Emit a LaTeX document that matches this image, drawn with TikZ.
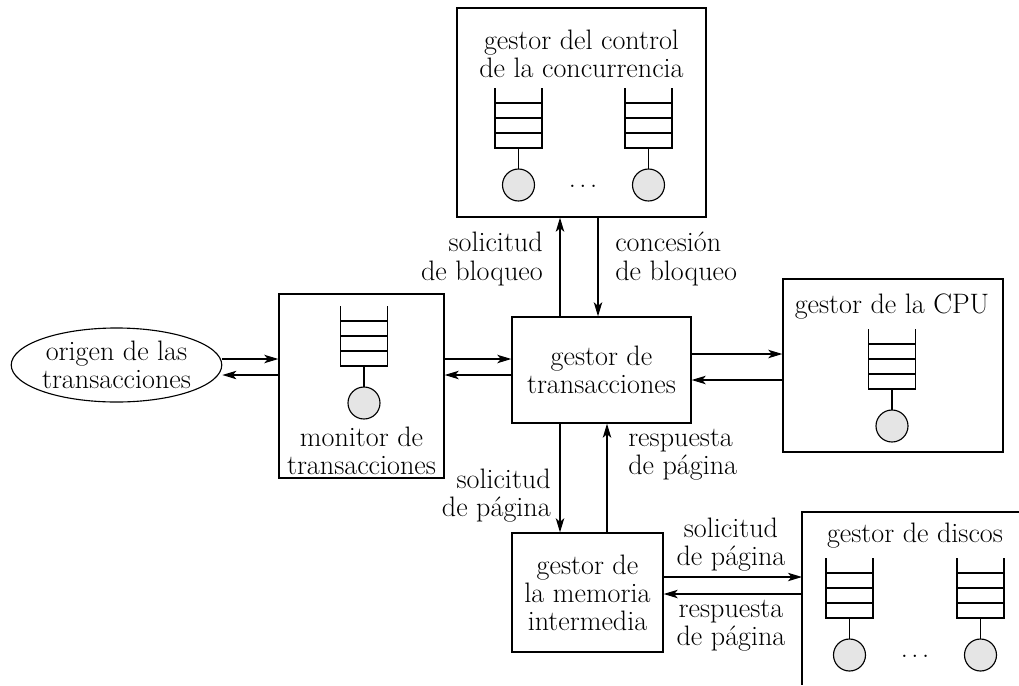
\documentclass[tikz,border=0pt]{standalone}
\usepackage{tikz}
\usetikzlibrary{positioning,arrows.meta,shapes.geometric,calc}

\tikzset{
  box/.style={draw, line width=0.9pt, inner sep=0pt},
  lbl/.style={inner sep=0pt},
  dots/.style={inner sep=0pt, font=\fontsize{16}{16}\selectfont},
  arr/.style={line width=0.8pt, -{Stealth[length=10pt,width=6pt,inset=2.5pt]}},
  queue/.pic={
    \draw[line width=0.8pt] (-23.5,0) -- (-23.5,60) -- (23.5,60) -- (23.5,0);
    \foreach \r in {15,30,45} \draw[line width=0.8pt] (-23.5,\r) -- (23.5,\r);
    \draw[line width=0.8pt] (0,60) -- (0,81);
    \draw[line width=0.8pt, fill=gray!20] (0,97) circle (16);
  }
}

\begin{document}
\begin{tikzpicture}[x=0.025cm, y=-0.025cm,
    every node/.style={font=\fontsize{20}{20}\selectfont}]
  \useasboundingbox (0,0) rectangle (1019,685);

  % gestor del control de la concurrencia (2 colas)
  \node[box, minimum width=6.225cm, minimum height=5.225cm] (conc) at (581.5,112.5) {};
  \node[lbl, align=center] (conctxt) at (581.5,54) {gestor del control\\de la concurrencia};
  \pic at (518.5,88) {queue};
  \pic at (648.5,88) {queue};
  \node[dots] (concdots) at (583,186) {$\ldots$};

  % gestor de transacciones, en el centro
  \node[box, align=center, minimum width=4.475cm, minimum height=2.65cm] (trans) at (601.5,370) {gestor de\\transacciones};

  % monitor de transacciones (1 cola)
  \node[box, minimum width=4.125cm, minimum height=4.6cm] (mon) at (361.5,386) {};
  \pic at (364,306) {queue};
  \node[lbl, align=center] (montxt) at (361.5,451) {monitor de\\transacciones};

  % origen
  \node[draw, ellipse, line width=0.8pt, inner sep=0pt, minimum width=5.175cm, minimum height=1.85cm,
        align=center] (orig) at (116.5,365) {origen de las\\transacciones};

  % gestor de la CPU (1 cola)
  \node[box, minimum width=5.5cm, minimum height=4.325cm] (cpu) at (893,365.5) {};
  \node[lbl, anchor=base] (cputxt) at (892,313) {gestor de la CPU};
  \pic at (892,329) {queue};

  % gestor de la memoria intermedia
  \node[box, align=center, minimum width=3.775cm, minimum height=2.975cm] (mem) at (587.5,592.5) {gestor de\\la memoria\\intermedia};

  % gestor de discos: caja cortada por el borde
  \coordinate (dsk) at (802,512);
  \draw[line width=0.9pt] (1019,512) -- (dsk) -- (802,685);
  \node[lbl, anchor=base] (dsktxt) at (915,542) {gestor de discos};
  \pic at (849.5,558) {queue};
  \pic at (980.5,558) {queue};
  \node[dots] (dskdots) at (915,656) {$\ldots$};

  % flechas origen <-> monitor <-> transacciones
  \draw[arr] (orig.east |- 0,359) -- (mon.west |- 0,359);
  \draw[arr] (mon.west |- 0,375) -- (orig.east |- 0,375);
  \draw[arr] (mon.east |- 0,359) -- (trans.west |- 0,359);
  \draw[arr] (trans.west |- 0,375) -- (mon.east |- 0,375);

  % transacciones <-> CPU
  \draw[arr] (trans.east |- 0,354) -- (cpu.west |- 0,354);
  \draw[arr] (cpu.west |- 0,380) -- (trans.east |- 0,380);

  % transacciones <-> control de concurrencia
  \draw[arr] (trans.north -| 560,0) -- (conc.south -| 560,0);
  \draw[arr] (conc.south -| 598,0) -- (trans.north -| 598,0);
  \node[lbl, align=right, anchor=east] (solbloq) at (543,259) {solicitud\\de bloqueo};
  \node[lbl, align=left, anchor=west] (conbloq) at (615,259) {concesión\\de bloqueo};

  % transacciones <-> memoria intermedia
  \draw[arr] (trans.south -| 560,0) -- (mem.north -| 560,0);
  \draw[arr] (mem.north -| 607,0) -- (trans.south -| 607,0);
  \node[lbl, align=right, anchor=east] (solpag) at (551,496) {solicitud\\de página};
  \node[lbl, align=left, anchor=west] (respag) at (628,455) {respuesta\\de página};

  % memoria <-> discos
  \draw[arr] (mem.east |- 0,577) -- (dsk |- 0,577);
  \draw[arr] (dsk |- 0,594) -- (mem.east |- 0,594);
  \node[lbl, align=center] (solpag2) at (731,545) {solicitud\\de página};
  \node[lbl, align=center] (respag2) at (731,626) {respuesta\\de página};
\end{tikzpicture}
\end{document}
